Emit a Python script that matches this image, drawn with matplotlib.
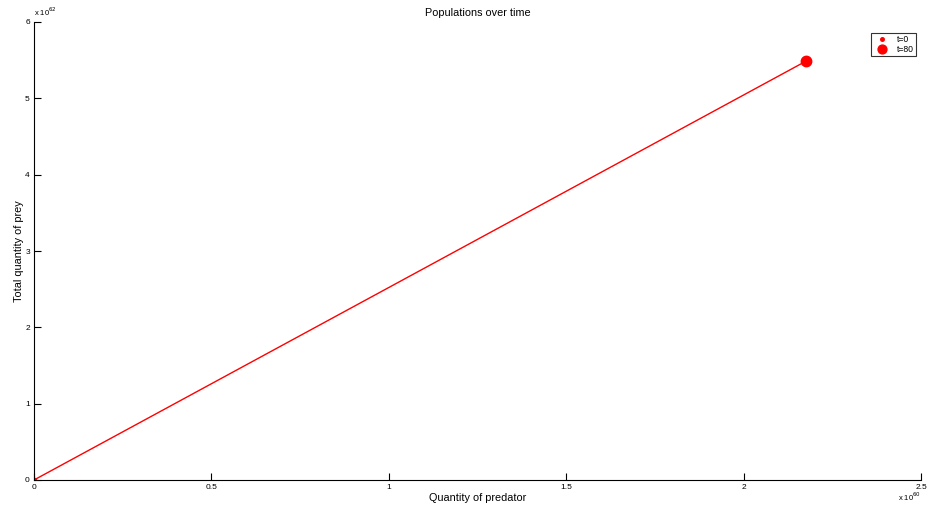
import numpy as np
import matplotlib.pyplot as plt
from matplotlib.ticker import FuncFormatter

plt.rcParams['font.family'] = ['Liberation Sans', 'DejaVu Sans']

# populations (start at t=0, end at t=80)
predator = [0.0, 2.177e60]
prey = [0.0, 5.49e62]
xexp = 60
yexp = 62
xticks = [0, 0.5, 1, 1.5, 2, 2.5]
yticks = [0, 1, 2, 3, 4, 5, 6]

xs = 10.0**xexp
ys = 10.0**yexp

fig = plt.figure(figsize=(9.27, 5.07), dpi=100)
ax = fig.add_axes([34/927, 27/507, 887/927, 458/507])

ax.plot(predator, prey, 'r-', lw=1)
ax.plot(predator[0], prey[0], 'r.', ms=6, label='t=0')
ax.plot(predator[-1], prey[-1], 'r.', ms=15, label='t=80')

ax.set_xlim(0, 2.5 * xs)
ax.set_ylim(0, 6 * ys)
ax.set_xticks([v * xs for v in xticks])
ax.set_yticks([v * ys for v in yticks])
ax.xaxis.set_major_formatter(FuncFormatter(lambda v, p: '%g' % (v / xs)))
ax.yaxis.set_major_formatter(FuncFormatter(lambda v, p: '%g' % (v / ys)))
ax.tick_params(direction='in', length=5, labelsize=6, width=0.8, pad=3)

ax.spines['top'].set_visible(False)
ax.spines['right'].set_visible(False)

ax.set_title('Populations over time', fontsize=7.8, pad=4)
ax.set_xlabel('Quantity of predator', fontsize=7.8, labelpad=1)
ax.set_ylabel('Total quantity of prey', fontsize=7.8, labelpad=0.5)

ax.text(0.0, 1.008, r'x 10$^{%d}$' % yexp, transform=ax.transAxes, fontsize=5.5, ha='left', va='bottom')
ax.text(1.0, -0.037, r'x 10$^{%d}$' % xexp, transform=ax.transAxes, fontsize=5.5, ha='right', va='center')

leg = ax.legend(loc='upper right', fontsize=6.2, frameon=True, fancybox=False,
                edgecolor='black', handlelength=2.2, borderpad=0.25, labelspacing=0.05,
                handletextpad=0.6, markerscale=0.85, bbox_to_anchor=(0.9995, 0.985))
leg.get_frame().set_linewidth(0.8)

fig.savefig('out.png', dpi=100)
